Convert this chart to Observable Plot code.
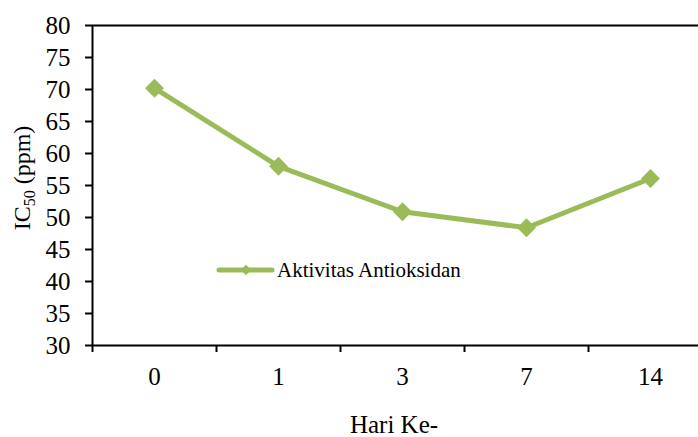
<!DOCTYPE html>
<html>
<head>
<meta charset="utf-8">
<script src="https://cdn.jsdelivr.net/npm/d3@7"></script>
<script src="https://cdn.jsdelivr.net/npm/@observablehq/plot@0.6"></script>
<style>
  html, body { margin: 0; padding: 0; background: #fff; }
  svg text { font-family: "Liberation Serif", "Times New Roman", Times, serif !important; }
</style>
</head>
<body>
<div id="chart"></div>
<script>
const days = ["0", "1", "3", "7", "14"];
const ic50 = [70.2, 58.0, 50.9, 48.4, 56.1];
const yTicks = [30, 35, 40, 45, 50, 55, 60, 65, 70, 75, 80];
const seriesName = "Aktivitas Antioksidan";
const xTitle = "Hari Ke-";

const serif = "'Liberation Serif', 'Times New Roman', Times, serif";
const green = "#9BBB59";
const idx = days.map((d, i) => i);
const data = days.map((d, i) => ({day: d, i, v: ic50[i]}));

const chart = Plot.plot({
  width: 698,
  height: 437,
  marginLeft: 92,
  marginTop: 25,
  marginBottom: 92,
  marginRight: 0,
  style: {fontFamily: serif, fontSize: "25px", color: "#000", background: "#fff", overflow: "visible"},
  x: {type: "linear", domain: [-0.5, days.length - 0.5], range: [92, 712]},
  y: {domain: [30, 80]},
  marks: [
    Plot.ruleY([80], {stroke: "#000", strokeWidth: 2}),
    Plot.ruleY([30], {stroke: "#000", strokeWidth: 2}),
    Plot.ruleX([-0.5], {stroke: "#000", strokeWidth: 2}),
    Plot.axisY({ticks: yTicks, tickSize: 7, tickPadding: 15, strokeWidth: 2, label: null, fontSize: 25}),
    Plot.axisX({ticks: idx.map(i => i - 0.5), tickSize: 7, tickFormat: () => "", strokeWidth: 2, label: null}),
    Plot.axisX({ticks: idx, tickSize: 0, tickPadding: 22, tickFormat: i => days[i], label: null, fontSize: 25}),
    Plot.line(data, {x: "i", y: "v", stroke: green, strokeWidth: 5}),
    Plot.dot(data, {x: "i", y: "v", symbol: "diamond2", r: 8.5, fill: green, stroke: "none"})
  ]
});

const svg = d3.select(chart);
// y-axis title with subscript
const yt = svg.append("text")
  .attr("transform", "translate(30,178) rotate(-90)")
  .attr("text-anchor", "middle")
  .attr("font-size", 24)
  .attr("fill", "#000");
yt.append("tspan").text("IC");
yt.append("tspan").attr("font-size", 16).attr("dy", 5).text("50");
yt.append("tspan").attr("dy", -5).text(" (ppm)");

// x-axis title
svg.append("text")
  .attr("x", 394).attr("y", 433)
  .attr("text-anchor", "middle")
  .attr("font-size", 25)
  .attr("fill", "#000")
  .text(xTitle);

// legend
const lg = svg.append("g");
lg.append("line").attr("x1", 219).attr("x2", 272).attr("y1", 270).attr("y2", 270)
  .attr("stroke", green).attr("stroke-width", 5).attr("stroke-linecap", "round");
lg.append("path").attr("d", d3.symbol(d3.symbolDiamond2, 70)()).attr("transform", "translate(246,270)").attr("fill", green);
lg.append("text").attr("x", 277).attr("y", 277)
  .attr("text-anchor", "start")
  .attr("font-size", 21).attr("fill", "#000").text(seriesName);

document.getElementById("chart").appendChild(chart);
</script>
</body>
</html>
